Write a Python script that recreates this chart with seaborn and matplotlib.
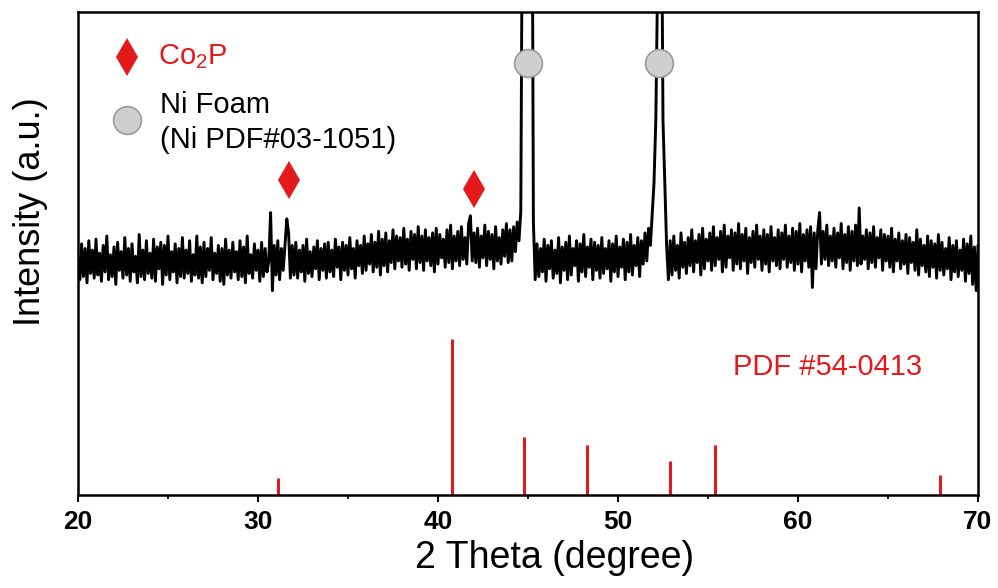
import numpy as np
import pandas as pd
import matplotlib
matplotlib.use("Agg")
import matplotlib.pyplot as plt
import seaborn as sns

# measured XRD trace, 20-70 deg, 0.1 deg step (one row per degree)
intensity = [
    152, 138, 161, 140, 158, 136, 163, 142, 157, 139,   # 20
    164, 141, 155, 137, 160, 143, 166, 138, 154, 140,   # 21
    159, 135, 162, 144, 156, 139, 165, 141, 158, 137,   # 22
    161, 143, 153, 136, 167, 140, 157, 138, 163, 142,   # 23
    155, 139, 164, 137, 159, 145, 162, 135, 160, 141,   # 24
    166, 138, 156, 143, 161, 136, 158, 140, 165, 139,   # 25
    157, 142, 163, 137, 154, 141, 166, 139, 159, 136,   # 26
    162, 140, 158, 144, 165, 138, 155, 142, 160, 137,   # 27
    158, 135, 164, 141, 157, 139, 162, 143, 156, 138,   # 28
    163, 140, 159, 136, 166, 142, 154, 139, 161, 144,   # 29
    157, 137, 162, 140, 158, 143, 150, 181, 131, 160,   # 30
    141, 163, 138, 158, 144, 161, 177, 168, 139, 160,   # 31
    141, 162, 139, 157, 143, 160, 137, 164, 142, 156,   # 32
    140, 159, 145, 163, 138, 158, 144, 161, 139, 162,   # 33
    143, 157, 140, 164, 146, 159, 138, 162, 144, 160,   # 34
    141, 165, 145, 158, 139, 163, 147, 160, 142, 166,   # 35
    144, 161, 148, 167, 143, 162, 146, 169, 141, 164,   # 36
    147, 168, 143, 163, 149, 170, 145, 166, 150, 165,   # 37
    146, 171, 148, 164, 144, 169, 151, 167, 145, 172,   # 38
    149, 166, 144, 170, 150, 165, 147, 168, 143, 171,   # 39
    148, 167, 152, 164, 146, 170, 149, 173, 145, 166,   # 40
    150, 169, 147, 172, 151, 165, 148, 174, 179, 150,   # 41
    168, 149, 171, 146, 166, 152, 173, 147, 169, 151,   # 42
    167, 145, 172, 150, 165, 148, 170, 153, 174, 149,   # 43
    170, 150, 172, 156, 175, 163, 182, 420, 800, 1000,  # 44
    1000, 800, 500, 175, 138, 161, 140, 158, 143, 164,  # 45
    137, 160, 145, 163, 139, 157, 142, 165, 136, 159,   # 46
    144, 162, 138, 166, 141, 158, 147, 163, 137, 161,   # 47
    143, 167, 140, 159, 146, 164, 138, 162, 144, 160,   # 48
    139, 165, 142, 158, 145, 163, 137, 161, 143, 166,   # 49
    140, 159, 146, 164, 138, 162, 143, 167, 141, 160,   # 50
    147, 165, 140, 163, 148, 168, 150, 171, 160, 180,   # 51
    200, 240, 330, 600, 420, 240, 200, 160, 138, 163,   # 52
    141, 166, 144, 160, 139, 168, 146, 162, 142, 165,   # 53
    147, 170, 143, 163, 149, 167, 141, 171, 145, 164,   # 54
    150, 168, 144, 172, 147, 165, 151, 169, 143, 173,   # 55
    146, 166, 152, 170, 144, 168, 148, 174, 145, 167,   # 56
    150, 171, 142, 165, 149, 169, 146, 173, 151, 166,   # 57
    144, 170, 148, 167, 143, 172, 150, 165, 147, 170,   # 58
    145, 168, 151, 173, 146, 166, 149, 171, 144, 169,   # 59
    148, 174, 143, 167, 150, 170, 146, 172, 133, 168,   # 60
    145, 170, 181, 148, 169, 151, 173, 147, 166, 150,   # 61
    171, 146, 168, 152, 174, 145, 167, 149, 172, 144,   # 62
    169, 150, 173, 147, 184, 148, 166, 151, 170, 145,   # 63
    168, 149, 172, 146, 165, 152, 170, 144, 167, 150,   # 64
    166, 146, 171, 143, 164, 150, 168, 145, 163, 148,   # 65
    167, 142, 165, 149, 162, 144, 170, 141, 164, 147,   # 66
    160, 143, 166, 140, 163, 146, 161, 139, 167, 144,   # 67
    162, 141, 158, 145, 165, 138, 160, 143, 163, 140,   # 68
    157, 144, 164, 137, 161, 142, 166, 135, 159, 131,   # 69
    160,                                                # 70
]
two_theta = np.linspace(20, 70, len(intensity))

# Co2P reference pattern PDF #54-0413
ref_pos = [31.1, 40.8, 44.8, 48.3, 52.9, 55.4, 67.9]
ref_int = [11, 100, 37, 32, 22, 32, 13]

# peak markers
co2p_peaks = [31.7, 42.0]
co2p_marker_y = [202, 196]
ni_peaks = [45.0, 52.3]
ni_marker_y = [277, 277]

RED = "#e3191c"

sns.set_style("ticks")
plt.rcParams["font.family"] = ["Liberation Sans", "DejaVu Sans"]
plt.rcParams["mathtext.default"] = "regular"
plt.rcParams["text.color"] = "black"
plt.rcParams["axes.labelcolor"] = "black"
plt.rcParams["xtick.color"] = "black"

fig = plt.figure(figsize=(9.98, 5.88), dpi=100)
ax = fig.add_axes([78 / 998, 93 / 588, 900 / 998, 483 / 588])

df = pd.DataFrame({"two_theta": two_theta, "intensity": intensity})
sns.lineplot(data=df, x="two_theta", y="intensity", color="black",
             linewidth=2.1, ax=ax, estimator=None, sort=False)

ax.vlines(ref_pos, 0, ref_int, color=RED, linewidth=2.2)

ax.plot(co2p_peaks, co2p_marker_y, "d", color=RED, markersize=19,
        markeredgewidth=0, clip_on=False)
ax.plot(ni_peaks, ni_marker_y, "o", markerfacecolor="#cfcfcf",
        markeredgecolor="#9a9a9a", markeredgewidth=1.2, markersize=20)

# legend drawn by hand
ax.plot([0.0544], [0.907], "d", color=RED, markersize=19,
        markeredgewidth=0, transform=ax.transAxes)
ax.text(0.089, 0.907, "Co$_2$P", color=RED, fontsize=21,
        va="center", ha="left", transform=ax.transAxes)
ax.plot([0.0544], [0.776], "o", markerfacecolor="#cfcfcf",
        markeredgecolor="#9a9a9a", markeredgewidth=1.2, markersize=20,
        transform=ax.transAxes)
ax.text(0.091, 0.807, "Ni Foam", color="black", fontsize=21,
        va="center", ha="left", transform=ax.transAxes)
ax.text(0.091, 0.735, "(Ni PDF#03-1051)", color="black", fontsize=21,
        va="center", ha="left", transform=ax.transAxes)

ax.text(56.4, 82, "PDF #54-0413", color=RED, fontsize=21,
        va="center", ha="left")

ax.set_xlim(20, 70)
ax.set_ylim(0, 309.6)
ax.set_xticks([20, 30, 40, 50, 60, 70])
ax.set_xticks([25, 35, 45, 55, 65], minor=True)
ax.set_yticks([])
ax.tick_params(axis="x", which="major", direction="out", length=5,
               width=1.5, pad=6, labelsize=19)
ax.tick_params(axis="x", which="minor", direction="out", length=3, width=1.2)
for lab in ax.get_xticklabels():
    lab.set_fontweight("bold")

for s in ax.spines.values():
    s.set_visible(True)
    s.set_linewidth(1.8)
    s.set_color("black")

ax.set_xlabel("2 Theta (degree)", fontsize=27)
ax.xaxis.set_label_coords(0.529, -0.13)
ax.xaxis.label.set_va("center")
ax.set_ylabel("Intensity (a.u.)", fontsize=26)
ax.yaxis.set_label_coords(-0.053, 0.586)
ax.yaxis.label.set_va("center")

fig.savefig("out.png", dpi=100)
